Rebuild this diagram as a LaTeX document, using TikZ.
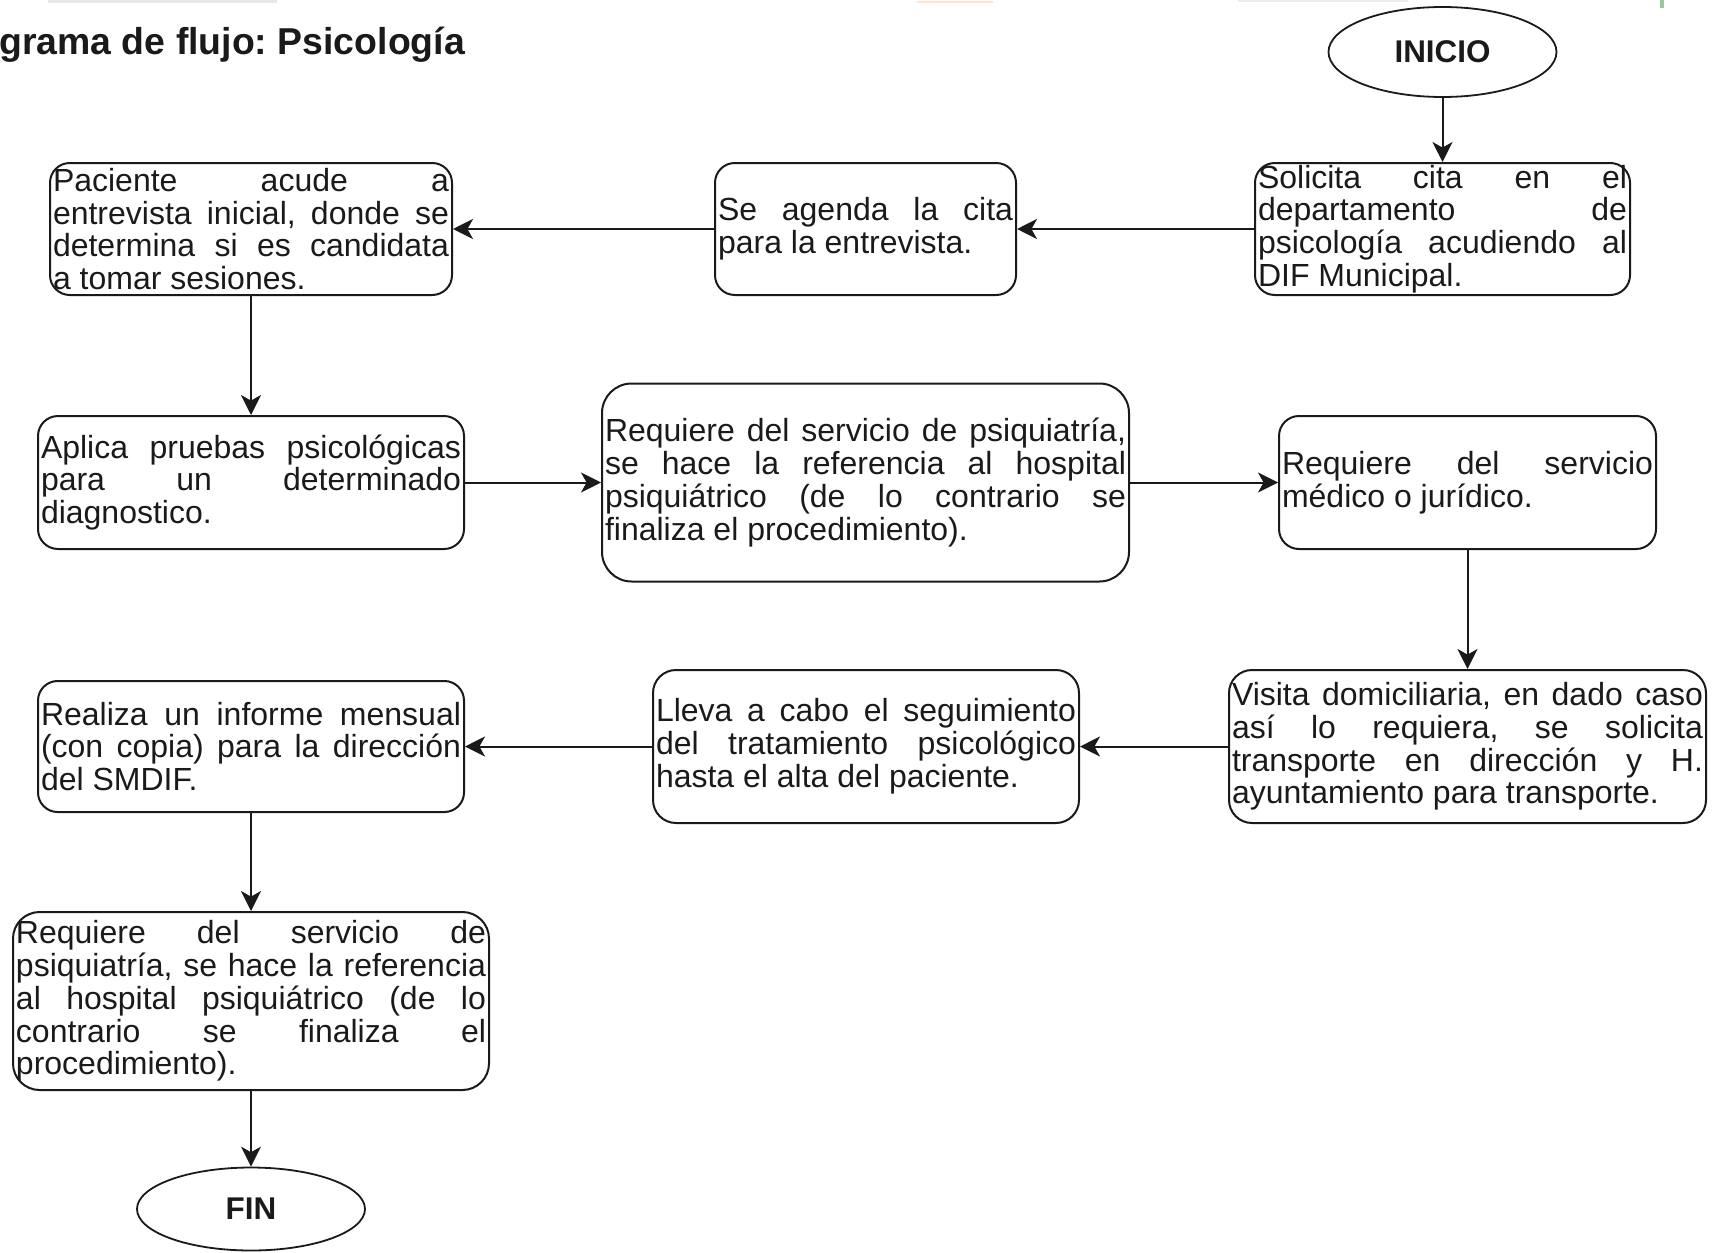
\documentclass[tikz,border=0pt]{standalone}
\usepackage{fontspec}
\setmainfont{Liberation Sans}
\usetikzlibrary{shapes.geometric,arrows.meta}
\frenchspacing

% one justified line filling the box width, and a ragged last line
\newcommand\jl[1]{\hbox to\hsize{\spaceskip=0.278em plus 1fil minus 0.06em\relax #1}}
\newcommand\lastln[1]{\hbox to\hsize{#1\hfil}}
\newcommand\boxtext[2]{\vbox{\hsize=#1\relax #2}}

\definecolor{ink}{HTML}{1A1A1A}

\tikzset{
  stepbox/.style n args={3}{draw=ink, line width=1pt, rounded corners=#3,
    minimum width=#1, minimum height=#2, inner sep=0pt, text=ink,
    font=\fontsize{16}{16.4}\selectfont},
  terminal/.style={draw=ink, ellipse, line width=0.9pt, minimum width=114pt,
    inner sep=0pt, text=ink, font=\bfseries\fontsize{15.7}{17}\selectfont},
  flow/.style={draw=ink, line width=1pt, -{Stealth[length=10pt,width=10pt,inset=2.8pt]}},
}

\begin{document}
\begin{tikzpicture}[x=0.5pt, y=-0.5pt]
\useasboundingbox (0,0) rectangle (1717,1252);

% remnants of the page header
\fill[gray!18] (48,0) rectangle (277,3);
\fill[gray!15] (1238,0) rectangle (1408,2);
\fill[orange!20] (917,1) rectangle (993,3);
\fill[green!45!black!40] (1660,0) rectangle (1664,8);

% title
\node[anchor=base west, inner sep=0pt, text=ink,
      font=\bfseries\fontsize{18.7}{20}\selectfont] (title) at (-1,55)
      {grama de flujo: Psicología};

% start / end
\node[terminal, minimum height=45pt] (ini) at (1442.5,52) {INICIO};
\node[terminal, minimum height=41.5pt] (fin) at (251,1209) {FIN};

% row 1
\node[stepbox={187.5pt}{66pt}{9.9pt}] (sol) at (1442.5,229)
  {\boxtext{184.5pt}{\jl{Solicita cita en el}\jl{departamento de}\jl{psicología acudiendo al}\lastln{DIF Municipal.}}};
\node[stepbox={150.5pt}{66pt}{9.9pt}] (age) at (865.5,229)
  {\boxtext{147.5pt}{\jl{Se agenda la cita}\lastln{para la entrevista.}}};
\node[stepbox={201pt}{66pt}{9.9pt}] (pac) at (251,229)
  {\boxtext{198pt}{\jl{Paciente acude a}\jl{entrevista inicial, donde se}\jl{determina si es candidata}\lastln{a tomar sesiones.}}};

% row 2
\node[stepbox={213pt}{66.5pt}{10pt}] (apl) at (251,482.5)
  {\boxtext{210pt}{\jl{Aplica pruebas psicológicas}\jl{para un determinado}\lastln{diagnostico.}}};
\node[stepbox={263.5pt}{99pt}{14.8pt}] (psq) at (865.5,482.5)
  {\boxtext{260.5pt}{\jl{Requiere del servicio de psiquiatría,}\jl{se hace la referencia al hospital}\jl{psiquiátrico (de lo contrario se}\lastln{finaliza el procedimiento).}}};
\node[stepbox={188.5pt}{66.5pt}{10pt}] (med) at (1467.5,482.5)
  {\boxtext{185.5pt}{\jl{Requiere del servicio}\lastln{médico o jurídico.}}};

% row 3
\node[stepbox={238.5pt}{76.5pt}{11.5pt}] (vis) at (1467.5,746.5)
  {\boxtext{235.5pt}{\jl{Visita domiciliaria, en dado caso}\jl{así lo requiera, se solicita}\jl{transporte en dirección y H.}\lastln{ayuntamiento para transporte.}}};
\node[stepbox={213pt}{76.5pt}{11.5pt}] (lle) at (866,746.5)
  {\boxtext{210pt}{\jl{Lleva a cabo el seguimiento}\jl{del tratamiento psicológico}\lastln{hasta el alta del paciente.}}};
\node[stepbox={213pt}{65.5pt}{9.8pt}] (rea) at (251,746.5)
  {\boxtext{210pt}{\jl{Realiza un informe mensual}\jl{(con copia) para la dirección}\lastln{del SMDIF.}}};

% row 4
\node[stepbox={238pt}{89pt}{13.3pt}] (req) at (251,1001)
  {\boxtext{235pt}{\jl{Requiere del servicio de}\jl{psiquiatría, se hace la referencia}\jl{al hospital psiquiátrico (de lo}\jl{contrario se finaliza el}\lastln{procedimiento).}}};

% connectors
\draw[flow] (ini) -- (sol);
\draw[flow] (sol) -- (age);
\draw[flow] (age) -- (pac);
\draw[flow] (pac) -- (apl);
\draw[flow] (apl) -- (psq);
\draw[flow] (psq) -- (med);
\draw[flow] (med) -- (vis);
\draw[flow] (vis) -- (lle);
\draw[flow] (lle) -- (rea);
\draw[flow] (rea) -- (req);
\draw[flow] (req) -- (fin);
\end{tikzpicture}
\end{document}
